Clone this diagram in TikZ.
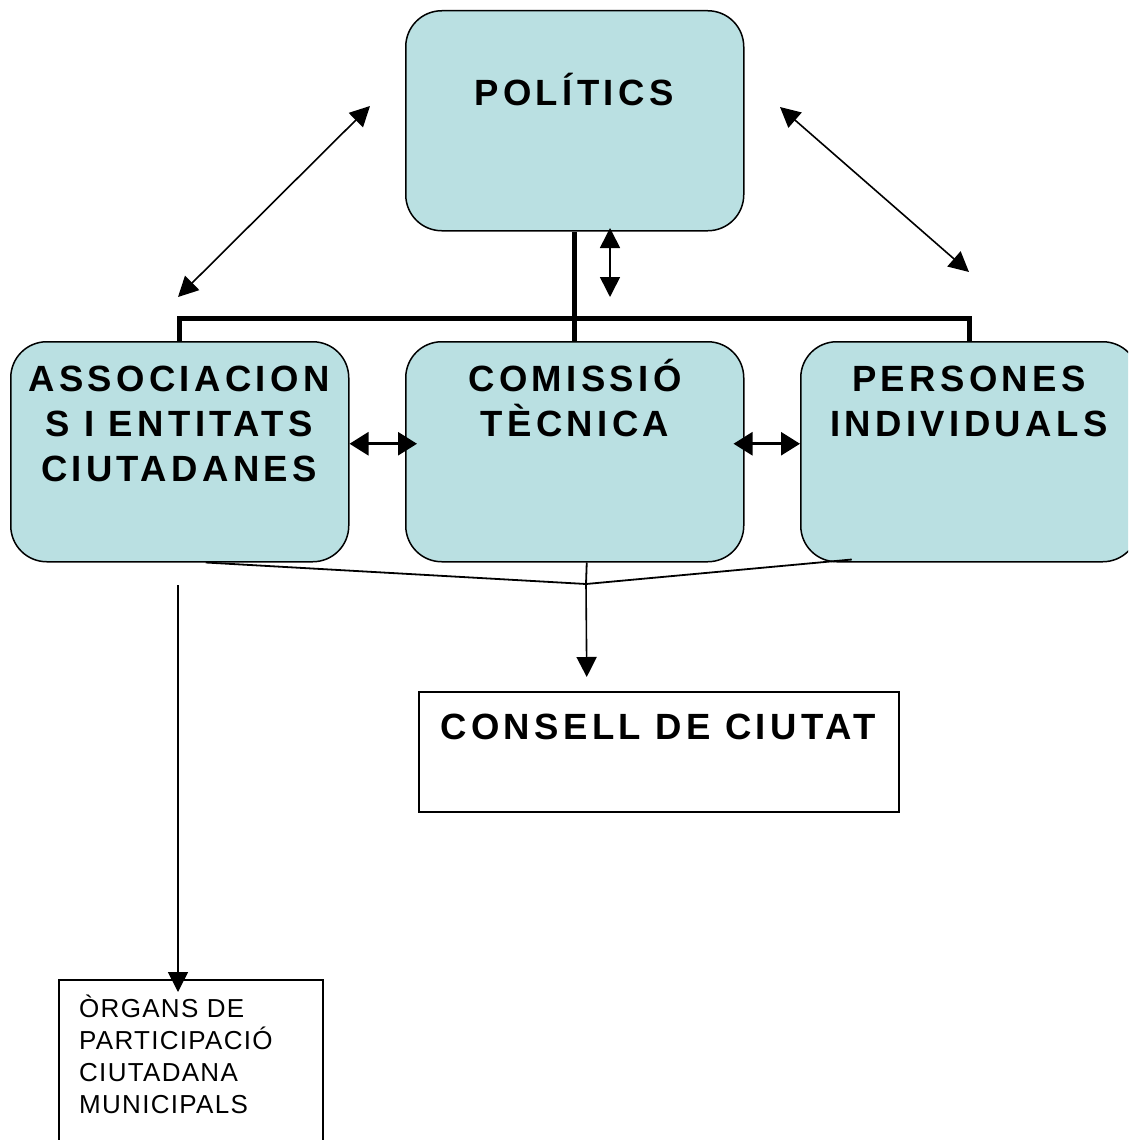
\documentclass[tikz,border=0pt]{standalone}
\usepackage{fontspec}
\setmainfont{Liberation Sans}
\newfontfamily\spaced[LetterSpace=12]{Liberation Sans}
\newfontfamily\lspaced[LetterSpace=5]{Liberation Sans}
\usetikzlibrary{arrows.meta,calc}
\definecolor{boxfill}{RGB}{186,224,226}
\begin{document}
\begin{tikzpicture}[x=1pt,y=-1pt,
  Tri/.tip={Triangle[length=20pt,width=20pt]},
  Big/.tip={Triangle[length=19pt,width=23pt]},
  rbox/.style={draw=black, line width=1.5pt, fill=boxfill, rounded corners=36pt,
    minimum width=338pt, minimum height=220pt, inner sep=0pt, anchor=north west},
  sbox/.style={draw=black, line width=1.5pt, fill=white, inner sep=0pt, anchor=north west},
  btext/.style={font=\spaced\bfseries\fontsize{36.5}{45}\selectfont, inner sep=0pt, align=center},
  stext/.style={font=\lspaced\fontsize{26}{32}\selectfont, inner sep=0pt, align=left},
  tree/.style={line width=5pt, line join=miter},
  link/.style={line width=1.8pt},
  dbl/.style={Tri-Tri, line width=1.6pt},
  hdbl/.style={Big-Big, line width=2.8pt},
  one/.style={-Tri, line width=1.6pt}
]
\useasboundingbox (0,0) rectangle (1128,1140);
\clip (0,0) rectangle (1128,1140);

% boxes
\node[rbox] (pol) at (405,10) {};
\node[rbox] (ass) at (10,341) {};
\node[rbox] (com) at (405,341) {};
\node[rbox] (per) at (800,341) {};
\node[sbox, minimum width=480pt, minimum height=120pt] (con) at (418,691) {};
\node[sbox, minimum width=264pt, minimum height=220pt] (org) at (58,979) {};

% texts
\node[btext, anchor=base] (polt) at (574,105) {POLÍTICS};
\node[btext, anchor=north] (asst) at (179,351) {\rule{0pt}{40pt}ASSOCIACION\\S I ENTITATS\\CIUTADANES};
\node[btext, anchor=north] (comt) at (575,351) {\rule{0pt}{40pt}COMISSIÓ\\TÈCNICA};
\node[btext, anchor=north] (pert) at (969,351) {\rule{0pt}{40pt}PERSONES\\INDIVIDUALS};
\node[btext, anchor=base] (cont) at (658,739) {CONSELL DE CIUTAT};
\node[stext, anchor=north west] (orgt) at (79,987) {\rule{0pt}{30pt}ÒRGANS DE\\PARTICIPACIÓ\\CIUTADANA\\MUNICIPALS};

% tree from POLITICS
\coordinate (j) at (574,318);
\draw[tree] (pol.south) -- (com.north);
\draw[tree] (ass.north) -- (ass.north |- j) -- (per.north |- j) -- (per.north);

% double arrows around POLITICS
\coordinate (pa) at (610,228);
\coordinate (pb) at (610,297);
\draw[dbl] (pa) -- (pb);
\coordinate (l1) at (370,106);
\coordinate (l2) at (178,297);
\draw[dbl] (l1) -- (l2);
\coordinate (r1) at (780,107);
\coordinate (r2) at (969,272);
\draw[dbl] (r1) -- (r2);

% horizontal double arrows
\draw[hdbl] ([yshift=8pt]ass.east) -- ([xshift=12pt,yshift=8pt]com.west);
\draw[hdbl] ([xshift=-11pt,yshift=8pt]com.east) -- ([yshift=8pt]per.west);

% lines to CONSELL DE CIUTAT
\coordinate (a1) at ([xshift=26pt]ass.south);
\coordinate (p1) at ([xshift=-118pt,yshift=3pt]per.south);
\coordinate (c1) at ([xshift=12pt]com.south);
\coordinate (m) at (586,584);
\draw[link] (a1) -- (m) -- (p1);
\draw[link] (c1) -- (m);
\coordinate (ct) at ($(c1 |- con.north)+(0,-14)$);
\draw[one] (m) -- (ct);

% long arrow to ORGANS
\coordinate (s1) at (178,585);
\coordinate (s2) at (178,992);
\draw[one] (s1) -- (s2);
\end{tikzpicture}
\end{document}
